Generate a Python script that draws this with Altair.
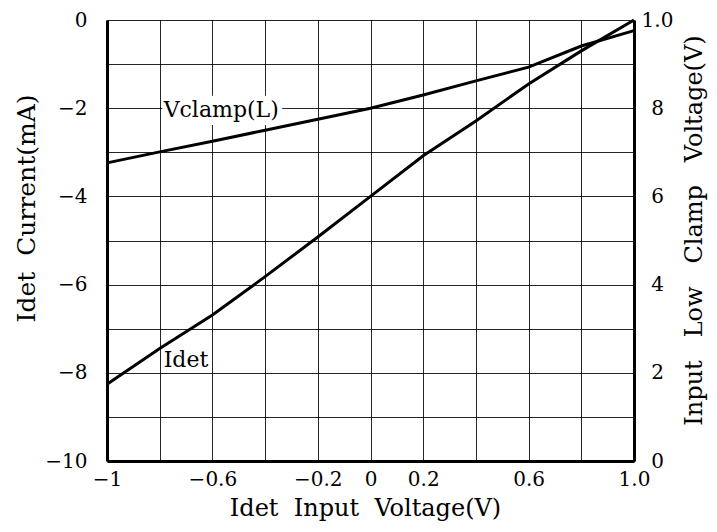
import altair as alt
import pandas as pd

# ---- data ----
x_vals = [-1.0, -0.8, -0.6, -0.4, -0.2, 0.0, 0.2, 0.4, 0.6, 0.8, 1.0]
idet_ma = [-8.26, -7.45, -6.69, -5.82, -4.92, -4.0, -3.08, -2.29, -1.45, -0.70, 0.0]
vclamp_v = [0.676, 0.701, 0.725, 0.750, 0.775, 0.800, 0.830, 0.862, 0.893, 0.941, 0.976]

x_ticks = [-1.0, -0.8, -0.6, -0.4, -0.2, 0.0, 0.2, 0.4, 0.6, 0.8, 1.0]
x_tick_labels = ["−1", "", "−0.6", "", "−0.2", "0", "0.2", "", "0.6", "", "1.0"]
y_ticks = [-10, -9, -8, -7, -6, -5, -4, -3, -2, -1, 0]
y_tick_labels = ["−10", "", "−8", "", "−6", "", "−4", "", "−2", "", "0"]
r_ticks = [0.0, 0.2, 0.4, 0.6, 0.8, 1.0]
r_tick_labels = ["0", "2", "4", "6", "8", "1.0"]

ann_text = ["Vclamp(L)", "Idet"]
ann_x = [-0.785, -0.785]
ann_y = [-2.04, -7.72]

mask_x = [-0.79]
mask_x2 = [-0.335]
mask_y = [-1.72]
mask_y2 = [-2.38]

FONT = "DejaVu Serif"
SP = "\u00a0\u00a0"
SP3 = "\u00a0\u00a0\u00a0"


def label_expr(vals, labels):
    expr = "''"
    for v, l in reversed(list(zip(vals, labels))):
        expr = f"datum.value == {v} ? '{l}' : ({expr})"
    return expr


df = pd.DataFrame({"x": x_vals, "idet": idet_ma, "vclamp": vclamp_v})
ann = pd.DataFrame({"t": ann_text, "x": ann_x, "y": ann_y})
mask = pd.DataFrame({"x": mask_x, "x2": mask_x2, "y": mask_y, "y2": mask_y2})

xscale = alt.Scale(domain=[-1, 1], nice=False, zero=False)
yscale = alt.Scale(domain=[-10, 0], nice=False, zero=False)

common = dict(
    ticks=False, domain=True, domainColor="#000", domainWidth=3,
    labelFont=FONT, labelFontSize=20, labelColor="#000",
    labelFlush=False, labelOverlap=False,
    titleFont=FONT, titleFontWeight="normal", titleColor="#000",
    titleBaseline="middle",
)

xaxis = alt.Axis(
    values=x_ticks, labelExpr=label_expr(x_ticks, x_tick_labels),
    title=f"Idet{SP}Input{SP}Voltage(V)", grid=True,
    gridColor="#000", gridOpacity=0.85, gridWidth=1, labelPadding=8,
    titleX=258, titleY=47, titleFontSize=24, **common,
)
yaxis = alt.Axis(
    values=y_ticks, labelExpr=label_expr(y_ticks, y_tick_labels),
    title=f"Idet{SP}Current(mA)", grid=True,
    gridColor="#000", gridOpacity=0.85, gridWidth=1, labelPadding=20,
    titleX=-81, titleY=188, titleAngle=270, titleFontSize=25, **common,
)
raxis = alt.Axis(
    orient="right", values=r_ticks, labelExpr=label_expr(r_ticks, r_tick_labels),
    title=f"Input{SP3}Low{SP3}Clamp{SP3}Voltage(V)", grid=False,
    labelPadding=23, labelAlign="center",
    titleX=60, titleY=210, titleAngle=270, titleFontSize=24, **common,
)

base = alt.Chart(df)

idet_line = base.mark_line(color="#000", strokeWidth=3).encode(
    x=alt.X("x:Q", scale=xscale, axis=xaxis),
    y=alt.Y("idet:Q", scale=yscale, axis=yaxis),
)

mask_rect = alt.Chart(mask).mark_rect(color="white").encode(
    x=alt.X("x:Q", scale=xscale), x2="x2", y=alt.Y("y:Q", scale=yscale), y2="y2"
)

ann_text_mark = alt.Chart(ann).mark_text(
    align="left", baseline="middle", font=FONT, fontSize=22, color="#000"
).encode(
    x=alt.X("x:Q", scale=xscale), y=alt.Y("y:Q", scale=yscale), text="t:N"
)

left = alt.layer(idet_line, mask_rect, ann_text_mark)

vclamp_line = base.mark_line(color="#000", strokeWidth=3).encode(
    x=alt.X("x:Q", scale=xscale),
    y=alt.Y("vclamp:Q", scale=alt.Scale(domain=[0, 1], nice=False, zero=False), axis=raxis),
)

chart = alt.layer(left, vclamp_line).resolve_scale(y="independent").properties(
    width=527, height=441,
    autosize=alt.AutoSizeParams(type="none"),
    padding={"left": 99, "top": 12, "right": 75, "bottom": 63},
).configure_view(stroke="#000", strokeWidth=3).configure(background="white")

chart.save("out.html", embed_options={"renderer": "svg", "actions": False})
